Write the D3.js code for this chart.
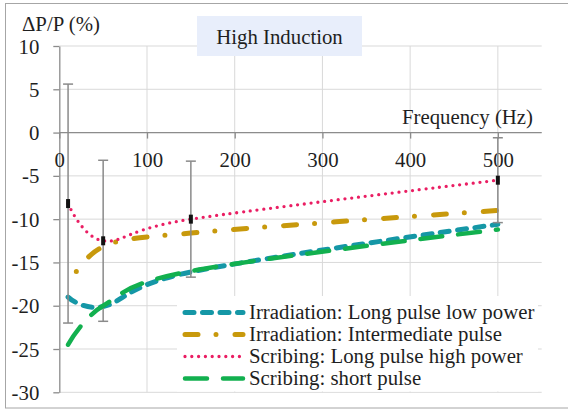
<!DOCTYPE html>
<html>
<head>
  <script src="https://cdn.jsdelivr.net/npm/d3@7"></script>
</head>
<body style="margin:0">
  <script>
    // data
    const freqs = [10, 50, 150, 500];
    const irrLongLow = [-19.0, -20.1, -16.1, -10.6];
    const irrInter = [-17.6, -13.2, -11.6, -9.0];
    const scribeLongHigh = [-8.2, -12.5, -10.0, -5.5];
    const scribeLongHighErr = [13.8, 9.3, 6.7, 4.9];
    const scribeShort = [-24.5, -20.0, -16.0, -11.2];
    const xTicks = [0, 100, 200, 300, 400, 500];
    const yTicks = [10, 5, 0, -5, -10, -15, -20, -25, -30];
    const seriesNames = [
      'Irradiation: Long pulse low power',
      'Irradiation: Intermediate pulse',
      'Scribing: Long pulse high power',
      'Scribing: short pulse'
    ];

    const W = 568, H = 411;
    const FONT = 'Liberation Serif';
    const FS = 20.8;
    const svg = d3.select('body').append('svg').attr('width', W).attr('height', H);

    // outer frame
    svg.append('rect').attr('x', 5.5).attr('y', 3.5).attr('width', 570).attr('height', 404.5)
      .attr('fill', '#fff').attr('stroke', '#a6a6a6').attr('stroke-width', 1);

    const x = d3.scaleLinear().domain([0, 550]).range([59.3, 541.7]);
    const y = d3.scaleLinear().domain([-30, 10]).range([392.3, 46]);

    // grid
    const grid = svg.append('g').attr('stroke', '#d9d9d9').attr('stroke-width', 1);
    yTicks.forEach(v => {
      grid.append('line').attr('x1', x(0)).attr('x2', x(550)).attr('y1', y(v)).attr('y2', y(v));
    });
    xTicks.slice(1).forEach(v => {
      grid.append('line').attr('x1', x(v)).attr('x2', x(v)).attr('y1', y(10)).attr('y2', y(-30));
    });

    // axes
    const axisColor = '#8c8c8c';
    const fmt = d => String(d);
    const yAxis = svg.append('g').attr('transform', `translate(${x(0)},0)`)
      .call(d3.axisLeft(y).tickValues(yTicks).tickSize(6).tickSizeOuter(0).tickFormat(fmt));
    yAxis.selectAll('text').attr('x', -20).attr('dy', '0.34em');

    const xAxis = svg.append('g').attr('transform', `translate(0,${y(0)})`)
      .call(d3.axisBottom(x).tickValues(xTicks).tickSize(6).tickSizeOuter(0).tickFormat(fmt));
    xAxis.select('.domain').attr('d', `M${x(0)},0H${x(550)}`);
    xAxis.selectAll('text').attr('y', 34).attr('dy', 0);

    [yAxis, xAxis].forEach(a => {
      a.attr('font-family', FONT).attr('font-size', FS);
      a.selectAll('.domain, line').attr('stroke', axisColor).attr('stroke-width', 1.3);
      a.selectAll('text').attr('fill', '#1f1f1f').attr('font-family', FONT).attr('font-size', FS);
    });

    function label(tx, ty, str, anchor) {
      return svg.append('text').attr('x', tx).attr('y', ty).attr('text-anchor', anchor || 'start')
        .attr('font-family', FONT).attr('font-size', FS).attr('fill', '#1f1f1f').text(str);
    }

    // axis titles
    label(22, 31, 'ΔP/P (%)');
    label(533, 124, 'Frequency (Hz)', 'end');

    // chart title box
    svg.append('rect').attr('x', 197).attr('y', 16).attr('width', 165).attr('height', 40).attr('fill', '#e8eefb');
    label(279.5, 43.5, 'High Induction', 'middle');

    const styles = [
      {color: '#1597a6', width: 5, dash: '9,8.5'},
      {color: '#c8990c', width: 5, dash: '13,18,0,19'},
      {color: '#ea1e63', width: 3.3, dash: '0,6.8'},
      {color: '#12b04f', width: 4.5, dash: '22,16'}
    ];
    const seriesVals = [irrLongLow, irrInter, scribeLongHigh, scribeShort];

    const line = d3.line().x(d => x(d[0])).y(d => y(d[1])).curve(d3.curveCardinal.tension(0));

    const plot = svg.append('g');
    seriesVals.forEach((vals, i) => {
      const pts = freqs.map((f, j) => [f, vals[j]]);
      const st = styles[i];
      const p = plot.append('path').attr('d', line(pts)).attr('fill', 'none')
        .attr('stroke', st.color).attr('stroke-width', st.width)
        .attr('stroke-dasharray', st.dash).attr('stroke-linecap', 'round');
      if (i === 1) p.attr('stroke-dashoffset', 15);
      if (i === 2) {
        // error bars and markers for this series
        freqs.forEach((f, j) => {
          const v = vals[j], e = scribeLongHighErr[j];
          const eb = plot.append('g').attr('stroke', '#8a8a8a').attr('stroke-width', 1.5);
          eb.append('line').attr('x1', x(f)).attr('x2', x(f)).attr('y1', y(v + e)).attr('y2', y(v - e));
          eb.append('line').attr('x1', x(f) - 5).attr('x2', x(f) + 5).attr('y1', y(v + e)).attr('y2', y(v + e));
          eb.append('line').attr('x1', x(f) - 5).attr('x2', x(f) + 5).attr('y1', y(v - e)).attr('y2', y(v - e));
          plot.append('rect').attr('x', x(f) - 2).attr('y', y(v) - 4.5)
            .attr('width', 4).attr('height', 9).attr('fill', '#111');
        });
      }
    });

    // legend
    const lg = svg.append('g');
    lg.append('rect').attr('x', 177).attr('y', 296).attr('width', 361).attr('height', 95.5).attr('fill', '#fff');
    seriesNames.forEach((name, i) => {
      const by = 318.5 + i * 22;
      const st = styles[i];
      lg.append('line').attr('x1', 185).attr('x2', 243).attr('y1', by - 6).attr('y2', by - 6)
        .attr('stroke', st.color).attr('stroke-width', st.width)
        .attr('stroke-dasharray', st.dash).attr('stroke-linecap', 'round');
      lg.append('text').attr('x', 249).attr('y', by).attr('font-family', FONT).attr('font-size', FS)
        .attr('fill', '#1f1f1f').text(name);
    });
  </script>
</body>
</html>
